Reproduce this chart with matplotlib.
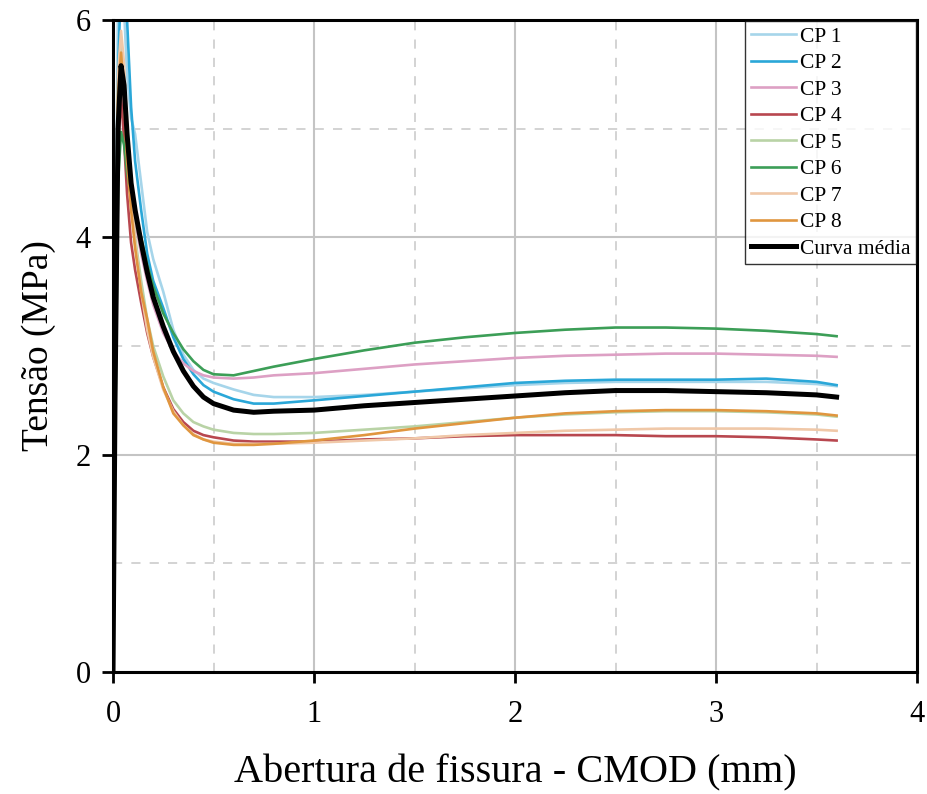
import numpy as np
import matplotlib
matplotlib.use('Agg')
import matplotlib.pyplot as plt
from matplotlib.ticker import MultipleLocator

# CMOD (mm) sample points shared by all curves
cmod = [0, 0.01, 0.025, 0.04, 0.055, 0.07, 0.09, 0.11, 0.14, 0.17, 0.2, 0.25,
        0.3, 0.35, 0.4, 0.45, 0.5, 0.6, 0.7, 0.8, 1.0, 1.25, 1.5, 1.75, 2.0,
        2.25, 2.5, 2.75, 3.0, 3.25, 3.5, 3.6]

cp1 = [0, 3.0, 6.2, 6.5, 6.1, 5.5, 5.1, 4.95, 4.5, 4.05, 3.8, 3.5, 3.15, 2.92,
       2.78, 2.70, 2.66, 2.60, 2.55, 2.53, 2.53, 2.55, 2.58, 2.61, 2.64, 2.66,
       2.67, 2.67, 2.67, 2.67, 2.65, 2.63]
cp2 = [0, 2.5, 5.5, 6.4, 6.6, 6.0, 5.2, 4.7, 4.25, 3.85, 3.6, 3.35, 3.08, 2.88,
       2.74, 2.64, 2.58, 2.51, 2.47, 2.47, 2.50, 2.54, 2.58, 2.62, 2.66, 2.68,
       2.69, 2.69, 2.69, 2.70, 2.67, 2.64]
cp3 = [0, 2.4, 5.2, 5.7, 5.3, 4.8, 4.4, 4.15, 3.85, 3.6, 3.38, 3.12, 2.95, 2.84,
       2.77, 2.73, 2.71, 2.70, 2.71, 2.73, 2.75, 2.79, 2.83, 2.86, 2.89, 2.91,
       2.92, 2.93, 2.93, 2.92, 2.91, 2.90]
cp4 = [0, 2.2, 4.8, 5.3, 4.9, 4.4, 3.95, 3.7, 3.4, 3.12, 2.9, 2.62, 2.42, 2.30,
       2.22, 2.18, 2.16, 2.13, 2.12, 2.12, 2.12, 2.14, 2.15, 2.17, 2.18, 2.18,
       2.18, 2.17, 2.17, 2.16, 2.14, 2.13]
cp5 = [0, 2.6, 5.4, 5.8, 5.5, 4.9, 4.4, 4.0, 3.6, 3.25, 3.0, 2.72, 2.5, 2.38,
       2.30, 2.26, 2.23, 2.20, 2.19, 2.19, 2.20, 2.23, 2.26, 2.30, 2.34, 2.37,
       2.39, 2.40, 2.40, 2.39, 2.37, 2.35]
cp6 = [0, 2.0, 4.5, 4.97, 4.85, 4.6, 4.35, 4.2, 4.0, 3.75, 3.55, 3.3, 3.12, 2.97,
       2.86, 2.78, 2.74, 2.73, 2.77, 2.81, 2.88, 2.96, 3.03, 3.08, 3.12, 3.15,
       3.17, 3.17, 3.16, 3.14, 3.11, 3.09]
cp7 = [0, 2.7, 5.5, 5.9, 5.6, 5.0, 4.4, 3.95, 3.5, 3.15, 2.9, 2.6, 2.4, 2.27,
       2.19, 2.14, 2.12, 2.10, 2.10, 2.10, 2.11, 2.13, 2.15, 2.18, 2.20, 2.22,
       2.23, 2.24, 2.24, 2.24, 2.23, 2.22]
cp8 = [0, 2.6, 5.3, 5.7, 5.3, 4.7, 4.25, 3.9, 3.5, 3.25, 2.95, 2.62, 2.38, 2.27,
       2.18, 2.14, 2.11, 2.09, 2.09, 2.10, 2.13, 2.18, 2.24, 2.29, 2.34, 2.38,
       2.40, 2.41, 2.41, 2.40, 2.38, 2.36]
media = [0, 2.5, 5.0, 5.58, 5.4, 4.95, 4.5, 4.25, 3.95, 3.68, 3.45, 3.18, 2.95,
         2.77, 2.63, 2.53, 2.47, 2.41, 2.39, 2.40, 2.41, 2.45, 2.48, 2.51, 2.54,
         2.57, 2.59, 2.59, 2.58, 2.57, 2.55, 2.53]

series = [('CP 1', cp1, '#a6d5ea'), ('CP 2', cp2, '#2aa7d8'),
          ('CP 3', cp3, '#dda0c4'), ('CP 4', cp4, '#b8474f'),
          ('CP 5', cp5, '#b9d3a6'), ('CP 6', cp6, '#3c9e57'),
          ('CP 7', cp7, '#f0c8a8'), ('CP 8', cp8, '#e0963f')]

plt.rcParams.update({'font.family': 'Liberation Serif'})

fig = plt.figure(figsize=(9.28, 7.94), dpi=100)
ax = fig.add_axes([113/928, 1-672/794, (917-113)/928, (672-20)/794])

for label, y, c in series:
    ax.plot(cmod, y, color=c, lw=1.9, label=label)
ax.plot(cmod, media, color='black', lw=3.6, label='Curva média')

ax.set_xlim(0, 4)
ax.set_ylim(0, 6)
ax.xaxis.set_major_locator(MultipleLocator(1))
ax.xaxis.set_minor_locator(MultipleLocator(0.5))
ax.yaxis.set_major_locator(MultipleLocator(2))
ax.yaxis.set_minor_locator(MultipleLocator(1))
ax.grid(which='major', color='#c4c4c4', lw=1.5, ls='-')
ax.grid(which='minor', color='#c8c8c8', lw=1.1, ls=(0, (6, 6)))
ax.set_axisbelow(True)

for sp in ax.spines.values():
    sp.set_linewidth(2.2)
ax.tick_params(which='major', direction='out', length=8, width=2,
               labelsize=22, pad=8)
ax.tick_params(axis='x', pad=12)
ax.tick_params(which='minor', length=0)

ax.set_xlabel('Abertura de fissura - CMOD (mm)', fontsize=29, labelpad=18)
ax.set_ylabel('Tensão (MPa)', fontsize=27, labelpad=14)

leg = ax.legend(loc='upper right', fontsize=15.5, frameon=True, fancybox=False,
                borderaxespad=0.05, borderpad=0.25, labelspacing=0.3,
                handlelength=2.1, handletextpad=0.2)
leg.get_frame().set_edgecolor('black')
leg.get_frame().set_linewidth(1.0)

fig.savefig('out.png', dpi=100)
